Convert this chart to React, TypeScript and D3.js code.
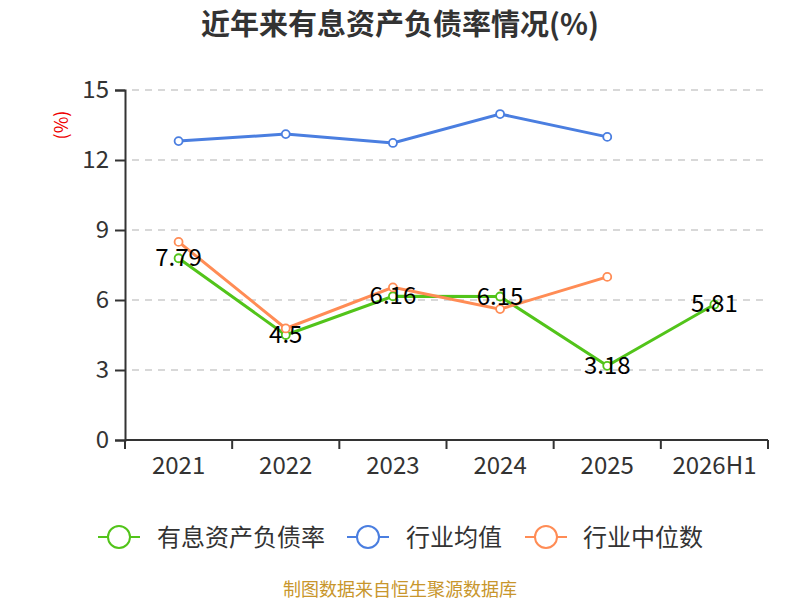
import React, {useEffect, useRef} from 'react';
import * as d3 from 'd3';

const categories = ['2021', '2022', '2023', '2024', '2025', '2026H1'];
const debtRatio = [7.79, 4.5, 6.16, 6.15, 3.18, 5.81];
const industryAvg = [12.81, 13.11, 12.73, 13.97, 12.99, null];
const industryMedian = [8.49, 4.78, 6.54, 5.61, 6.99, null];
const yTicks = [0, 3, 6, 9, 12, 15];

const series = [
  {name: '有息资产负债率', color: '#52c41a', values: debtRatio, labels: true},
  {name: '行业均值', color: '#4a7ee0', values: industryAvg, labels: false},
  {name: '行业中位数', color: '#ff8c55', values: industryMedian, labels: false}
];

const font = '"Noto Sans CJK SC", "Noto Sans", sans-serif';

function App() {
  const ref = useRef(null);

  useEffect(() => {
    const svg = d3.select(ref.current);
    svg.selectAll('*').remove();

    const x = d3.scaleBand().domain(categories).range([125, 768]);
    const y = d3.scaleLinear().domain([0, 15]).range([440, 90]);

    svg.append('text')
      .attr('x', 400).attr('y', 35)
      .attr('text-anchor', 'middle')
      .attr('font-size', 29).attr('font-weight', 'bold')
      .attr('fill', '#333')
      .text('近年来有息资产负债率情况(%)');

    // grid
    svg.append('g')
      .selectAll('line')
      .data(yTicks.filter(t => t > 0))
      .join('line')
      .attr('x1', 132).attr('x2', 768)
      .attr('y1', d => y(d)).attr('y2', d => y(d))
      .attr('stroke', '#ccc').attr('stroke-width', 1.5).attr('stroke-dasharray', '7,6');

    const yAxis = svg.append('g')
      .attr('transform', 'translate(125,0)')
      .call(d3.axisLeft(y).tickValues(yTicks).tickSize(10).tickPadding(6) as any);
    yAxis.select('.domain').attr('stroke', '#333').attr('stroke-width', 2);
    yAxis.selectAll('.tick line').attr('stroke', '#333').attr('stroke-width', 2);
    yAxis.selectAll('text').attr('font-size', 24).attr('fill', '#333').attr('font-family', font);

    const xAxis = svg.append('g')
      .attr('transform', 'translate(0,440)');
    xAxis.append('line')
      .attr('x1', 125).attr('x2', 768)
      .attr('stroke', '#333').attr('stroke-width', 2);
    const bounds = categories.map(c => x(c)!).concat([x.range()[1]]);
    xAxis.selectAll('line.tk')
      .data(bounds)
      .join('line')
      .attr('class', 'tk')
      .attr('x1', d => d).attr('x2', d => d)
      .attr('y1', 0).attr('y2', 9)
      .attr('stroke', '#333').attr('stroke-width', 2);
    xAxis.selectAll('text')
      .data(categories)
      .join('text')
      .attr('x', d => x(d)! + x.bandwidth() / 2)
      .attr('y', 34)
      .attr('text-anchor', 'middle')
      .attr('font-size', 24).attr('fill', '#333')
      .attr('font-family', font)
      .text(d => d);

    svg.append('text')
      .attr('transform', 'translate(68,125) rotate(-90)')
      .attr('text-anchor', 'middle')
      .attr('font-size', 18).attr('fill', '#e00')
      .text('(%)');

    const cx = (i: number) => x(categories[i])! + x.bandwidth() / 2;
    const line = d3.line<any>()
      .defined(d => d.v != null)
      .x(d => cx(d.i))
      .y(d => y(d.v));

    series.forEach(s => {
      const pts = s.values.map((v, i) => ({v, i}));
      const g = svg.append('g');
      g.append('path')
        .datum(pts)
        .attr('d', line)
        .attr('fill', 'none')
        .attr('stroke', s.color).attr('stroke-width', 3);
      g.selectAll('circle')
        .data(pts.filter(p => p.v != null))
        .join('circle')
        .attr('cx', d => cx(d.i)).attr('cy', d => y(d.v!))
        .attr('r', 4)
        .attr('fill', '#fff').attr('stroke', s.color).attr('stroke-width', 1.8);
    });

    series.filter(s => s.labels).forEach(s => {
      svg.append('g')
        .selectAll('text')
        .data(s.values.map((v, i) => ({v, i})))
        .join('text')
        .attr('x', d => cx(d.i)).attr('y', d => y(d.v!) + 8)
        .attr('text-anchor', 'middle')
        .attr('font-size', 24).attr('fill', '#000')
        .attr('font-family', font)
        .text(d => String(d.v));
    });

    // legend
    const legend = svg.append('g').attr('font-family', font);
    const items = [
      {x: 98, tx: 157},
      {x: 347, tx: 406},
      {x: 525, tx: 583}
    ];
    series.forEach((s, i) => {
      const it = items[i];
      legend.append('line')
        .attr('x1', it.x).attr('x2', it.x + 42)
        .attr('y1', 537).attr('y2', 537)
        .attr('stroke', s.color).attr('stroke-width', 2);
      legend.append('circle')
        .attr('cx', it.x + 21).attr('cy', 537).attr('r', 11)
        .attr('fill', '#fff').attr('stroke', s.color).attr('stroke-width', 2);
      legend.append('text')
        .attr('x', it.tx).attr('y', 546)
        .attr('font-size', 24).attr('fill', '#333')
        .text(s.name);
    });

    svg.append('text')
      .attr('x', 400).attr('y', 596)
      .attr('text-anchor', 'middle')
      .attr('font-size', 18).attr('fill', '#c8962c')
      .attr('font-family', font)
      .text('制图数据来自恒生聚源数据库');
  });

  return (
    <svg ref={ref} width={800} height={600}
      style={{position: 'absolute', left: 0, top: 0, fontFamily: font, background: '#fff'}}/>
  );
}

export default App;
